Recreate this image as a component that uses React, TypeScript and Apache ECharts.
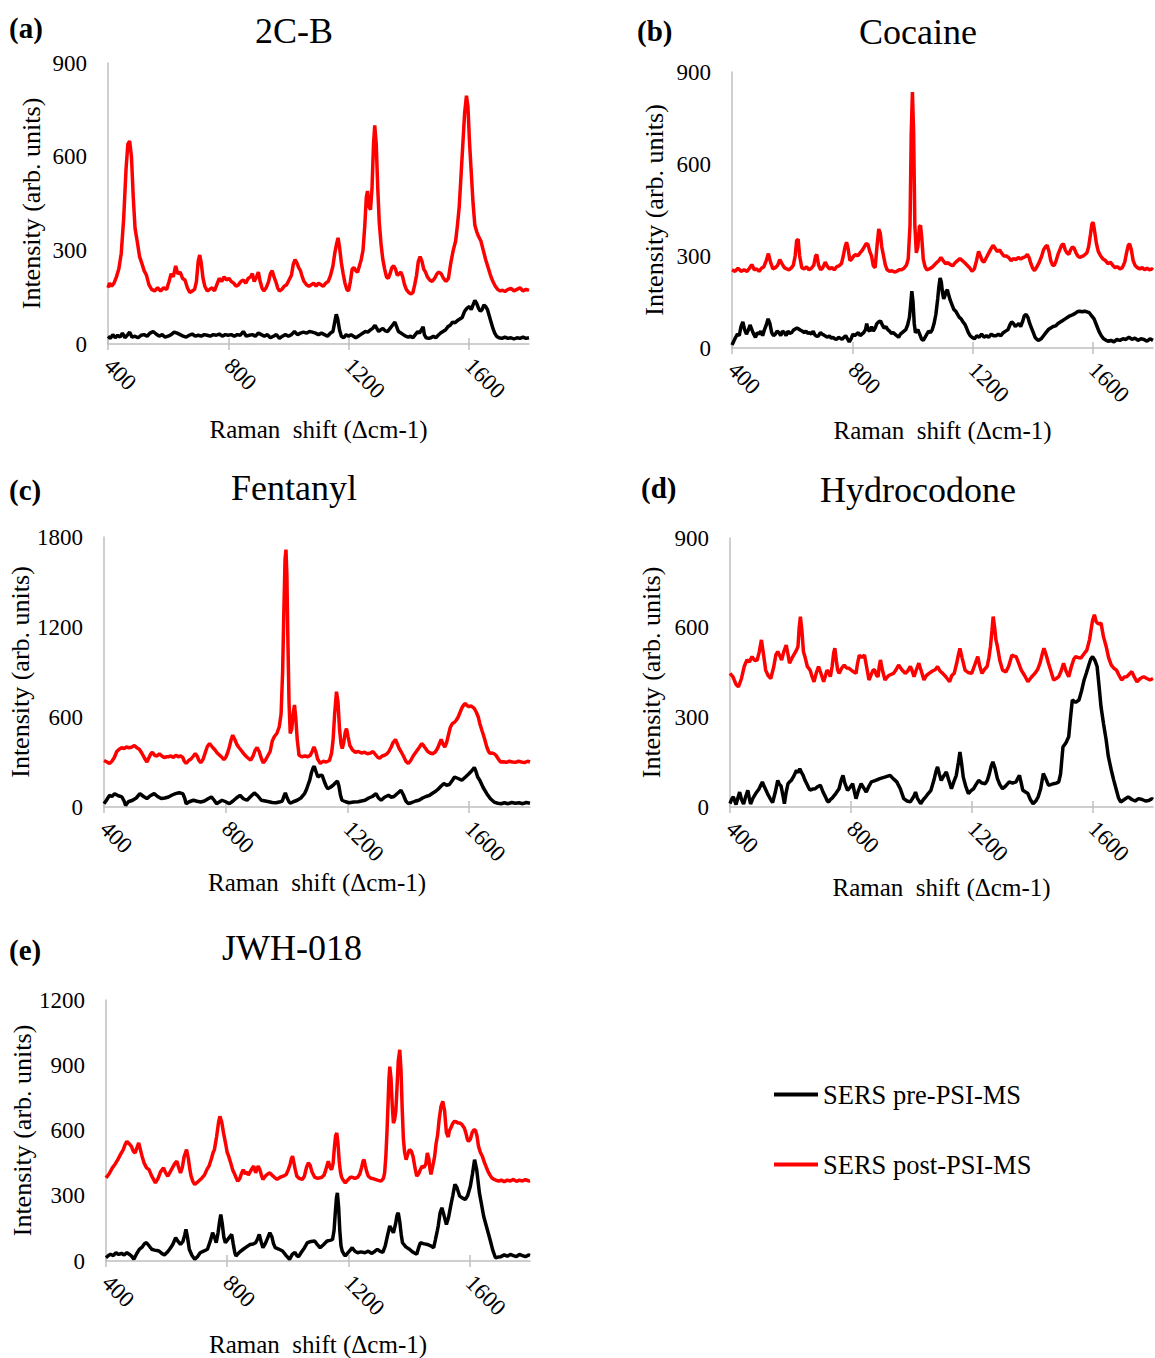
import React, { useEffect, useRef } from "react";
import * as echarts from "echarts";

// ---------- text / tick data ----------
const X_TICKS = [400, 800, 1200, 1600];
const X_MIN = 400;
const X_MAX = 1800;
const SERIES_NAMES = ["SERS pre-PSI-MS", "SERS post-PSI-MS"];
const TITLES = ["2C-B", "Cocaine", "Fentanyl", "Hydrocodone", "JWH-018"];
const PANEL_LABELS = ["(a)", "(b)", "(c)", "(d)", "(e)"];
const Y_MAX = [900, 900, 1800, 900, 1200];
const Y_STEP = [300, 300, 600, 300, 300];
const X_TITLE = "Raman  shift (Δcm-1)";
const Y_TITLE = "Intensity (arb. units)";

// ---------- spectra: [Raman shift, intensity] ----------
const cbPre = [[400,25],[408,18],[416,30],[424,20],[432,28],[440,22],[448,35],[456,20],[464,28],[472,38],[480,22],[490,25],[500,20],[510,28],[520,30],[530,25],[540,35],[550,40],[560,32],[570,25],[580,30],[590,22],[600,25],[610,30],[620,38],[630,35],[640,30],[650,25],[660,22],[670,28],[680,32],[690,25],[700,28],[710,25],[720,30],[730,28],[740,25],[750,30],[760,28],[770,32],[780,25],[790,30],[800,28],[810,30],[820,25],[830,30],[840,28],[850,40],[860,25],[870,28],[880,30],[890,25],[900,35],[910,30],[920,25],[930,30],[940,20],[950,25],[960,30],[970,18],[980,25],[990,30],[1000,25],[1010,30],[1020,40],[1030,30],[1040,35],[1050,38],[1060,35],[1070,40],[1080,38],[1090,35],[1100,30],[1110,35],[1120,30],[1130,25],[1140,35],[1148,40],[1154,70],[1159,95],[1164,80],[1170,45],[1176,25],[1184,20],[1192,30],[1200,25],[1208,30],[1216,25],[1224,20],[1232,25],[1240,30],[1248,35],[1256,40],[1264,38],[1272,45],[1280,50],[1288,60],[1294,50],[1300,40],[1306,45],[1314,50],[1322,42],[1330,40],[1338,50],[1346,60],[1354,70],[1360,55],[1366,40],[1374,35],[1382,30],[1390,25],[1398,22],[1406,25],[1414,20],[1422,30],[1430,40],[1436,35],[1442,45],[1448,55],[1452,30],[1458,20],[1466,18],[1474,20],[1482,25],[1490,20],[1498,28],[1506,35],[1514,40],[1522,45],[1530,55],[1538,60],[1546,70],[1554,68],[1562,75],[1570,80],[1578,85],[1586,105],[1594,115],[1602,120],[1608,110],[1614,125],[1620,140],[1626,130],[1632,115],[1638,105],[1644,110],[1650,125],[1656,120],[1662,110],[1668,90],[1674,70],[1680,50],[1686,35],[1692,25],[1700,20],[1710,18],[1720,22],[1730,18],[1740,20],[1750,16],[1760,20],[1770,18],[1780,22],[1790,18],[1800,20]];
const cbPost = [[400,180],[405,195],[412,185],[420,195],[428,215],[436,240],[444,290],[452,400],[460,560],[466,640],[472,650],[478,600],[484,470],[490,370],[497,330],[505,280],[512,260],[520,235],[528,220],[536,190],[545,175],[555,170],[565,180],[575,170],[585,180],[595,175],[603,200],[610,225],[617,215],[625,250],[632,225],[640,230],[648,210],[656,205],[664,180],[672,165],[680,170],[688,175],[694,200],[700,265],[705,285],[710,260],[716,210],[722,185],[730,170],[738,175],[746,180],[754,170],[762,190],[770,210],[778,200],[786,215],[794,205],[802,210],[810,200],[818,195],[826,185],[834,190],[842,200],[850,205],[858,195],[866,210],[874,215],[880,225],[886,200],[894,215],[900,230],[906,200],[912,180],[918,170],[926,180],[934,200],[940,225],[946,235],[952,215],[958,200],[964,180],[970,170],[978,175],[986,185],[994,190],[1002,205],[1010,220],[1016,255],[1022,270],[1028,260],[1034,245],[1040,235],[1046,215],[1052,200],[1060,190],[1068,185],[1076,190],[1084,195],[1092,185],[1100,195],[1108,190],[1116,185],[1124,195],[1132,200],[1140,220],[1148,250],[1154,290],[1160,320],[1165,340],[1170,310],[1176,260],[1182,225],[1188,195],[1194,175],[1200,170],[1206,200],[1212,240],[1218,245],[1224,235],[1230,230],[1236,250],[1242,270],[1248,300],[1254,380],[1259,470],[1263,490],[1268,440],[1273,430],[1278,500],[1283,640],[1287,700],[1292,640],[1297,500],[1302,390],[1308,320],[1314,270],[1320,240],[1326,215],[1332,210],[1338,225],[1344,245],[1350,250],[1356,240],[1362,220],[1368,225],[1374,230],[1380,215],[1386,190],[1392,175],[1400,165],[1408,160],[1414,165],[1420,190],[1426,220],[1432,265],[1438,280],[1444,265],[1450,240],[1456,230],[1462,215],[1470,205],[1478,200],[1486,210],[1494,225],[1500,230],[1508,225],[1516,210],[1524,200],[1532,210],[1540,260],[1548,300],[1556,330],[1562,380],[1568,440],[1574,540],[1580,640],[1586,740],[1592,795],[1597,760],[1602,650],[1608,550],[1614,450],[1620,380],[1626,360],[1632,345],[1640,330],[1648,300],[1656,270],[1664,245],[1672,220],[1680,200],[1688,185],[1696,175],[1704,170],[1712,172],[1720,168],[1730,175],[1740,178],[1750,170],[1760,175],[1770,180],[1780,170],[1790,175],[1800,172]];

const cocainePre = [[400,10],[405,20],[412,35],[418,45],[424,40],[430,70],[436,85],[442,60],[448,45],[455,60],[460,75],[466,60],[472,45],[478,35],[484,50],[490,45],[496,55],[502,40],[508,60],[514,75],[520,95],[526,80],[532,50],[538,40],[544,45],[550,55],[556,50],[562,40],[568,55],[574,50],[580,40],[586,55],[592,48],[598,50],[604,58],[610,62],[616,65],[622,62],[628,58],[634,55],[640,50],[646,55],[652,48],[658,50],[664,45],[670,55],[676,42],[682,38],[688,40],[694,50],[700,45],[706,42],[712,38],[718,35],[724,40],[730,32],[736,35],[742,30],[748,28],[754,35],[760,32],[766,28],[772,35],[778,40],[784,30],[790,20],[796,30],[802,45],[808,40],[814,45],[820,50],[826,40],[832,45],[838,50],[844,60],[848,80],[852,60],[858,55],[864,70],[870,55],[876,65],[882,80],[888,85],[894,88],[900,75],[906,65],[912,70],[918,60],[924,55],[930,48],[936,50],[942,45],[948,40],[954,35],[960,45],[966,50],[972,55],[978,60],[984,75],[990,100],[994,140],[998,185],[1002,150],[1006,80],[1010,50],[1014,55],[1018,60],[1022,50],[1026,40],[1030,30],[1036,25],[1042,35],[1048,45],[1054,55],[1060,50],[1066,60],[1072,80],[1078,110],[1084,160],[1088,200],[1092,228],[1096,215],[1100,180],[1104,160],[1108,170],[1112,185],[1116,190],[1120,175],[1126,155],[1132,140],[1138,125],[1144,120],[1150,110],[1156,100],[1162,95],[1168,85],[1174,78],[1180,65],[1186,50],[1192,40],[1198,35],[1206,30],[1214,40],[1222,35],[1230,45],[1238,35],[1246,40],[1254,35],[1262,45],[1270,40],[1278,40],[1286,45],[1294,40],[1302,50],[1310,55],[1318,60],[1324,75],[1330,85],[1336,80],[1342,70],[1348,75],[1354,80],[1360,70],[1366,85],[1372,105],[1378,110],[1384,100],[1390,80],[1396,65],[1402,50],[1408,35],[1414,28],[1420,25],[1428,30],[1436,40],[1444,50],[1452,60],[1460,65],[1468,70],[1476,72],[1484,80],[1492,85],[1500,90],[1508,95],[1516,100],[1524,105],[1532,108],[1540,112],[1548,118],[1556,120],[1564,118],[1572,120],[1580,118],[1588,115],[1596,105],[1604,95],[1612,75],[1620,55],[1628,40],[1636,30],[1644,25],[1652,22],[1660,25],[1670,20],[1680,28],[1690,25],[1700,30],[1710,28],[1720,35],[1730,28],[1740,32],[1750,25],[1760,30],[1770,28],[1780,22],[1790,30],[1800,25]];
const cocainePost = [[400,255],[410,250],[420,260],[430,250],[440,255],[450,250],[458,260],[466,272],[474,255],[482,258],[490,250],[498,260],[506,265],[514,285],[521,308],[528,280],[536,258],[544,262],[552,270],[559,288],[566,275],[574,262],[582,258],[590,255],[598,262],[604,270],[610,300],[615,350],[620,355],[625,300],[632,262],[640,258],[648,265],[656,255],[664,260],[672,270],[678,300],[682,305],[688,270],[695,255],[702,262],[710,280],[716,268],[724,258],[732,262],[740,255],[748,265],[756,268],[764,275],[770,300],[776,330],[781,345],[786,325],[792,285],[798,290],[805,300],[812,305],[818,300],[826,310],[834,320],[840,330],[846,340],[852,338],[858,315],[864,300],[870,268],[876,262],[882,330],[888,388],[893,375],[898,330],[904,300],[910,270],[916,255],[924,250],[932,252],[940,248],[948,250],[956,255],[964,255],[972,260],[980,270],[986,290],[992,400],[996,700],[1000,835],[1004,700],[1008,400],[1013,310],[1018,330],[1023,395],[1027,400],[1031,360],[1036,290],[1042,265],[1048,255],[1056,258],[1064,262],[1072,270],[1080,278],[1088,285],[1095,295],[1102,285],[1110,275],[1118,278],[1126,272],[1134,268],[1142,278],[1150,285],[1158,292],[1166,285],[1174,278],[1182,270],[1190,262],[1198,250],[1206,258],[1213,285],[1220,315],[1226,300],[1232,285],[1238,280],[1246,295],[1254,310],[1262,325],[1268,335],[1275,325],[1282,315],[1290,320],[1296,310],[1304,300],[1312,300],[1320,295],[1328,285],[1336,292],[1344,288],[1352,295],[1360,290],[1368,295],[1376,298],[1382,305],[1388,295],[1394,275],[1400,260],[1406,252],[1414,265],[1422,280],[1430,300],[1436,320],[1442,330],[1448,335],[1454,315],[1460,285],[1466,270],[1472,270],[1478,285],[1484,305],[1490,320],[1496,335],[1502,340],[1508,320],[1514,310],[1520,305],[1526,320],[1532,330],[1538,325],[1544,310],[1550,300],[1556,295],[1562,298],[1568,300],[1574,305],[1580,310],[1586,330],[1592,370],[1597,405],[1601,410],[1606,380],[1612,340],[1618,315],[1626,300],[1634,290],[1642,285],[1650,275],[1658,280],[1666,270],[1674,262],[1682,265],[1690,258],[1698,262],[1706,280],[1712,310],[1718,335],[1722,340],[1728,320],[1734,285],[1740,270],[1748,262],[1756,258],[1764,262],[1772,255],[1780,260],[1788,255],[1796,258],[1800,255]];

const fentanylPre = [[400,22],[408,45],[418,78],[426,70],[435,89],[447,75],[459,67],[466,40],[471,11],[480,35],[494,45],[506,60],[518,89],[530,70],[541,56],[552,75],[565,89],[576,70],[588,56],[600,60],[612,67],[624,80],[635,89],[647,95],[659,89],[665,60],[670,22],[680,35],[694,45],[706,38],[718,33],[730,40],[742,55],[753,67],[762,45],[770,22],[780,35],[788,45],[800,35],[812,22],[824,40],[835,60],[847,78],[858,55],[870,45],[882,70],[894,94],[905,75],[917,45],[930,40],[942,35],[953,30],[965,28],[976,33],[986,40],[991,70],[996,94],[1002,60],[1008,35],[1012,25],[1022,35],[1035,45],[1047,60],[1059,89],[1066,120],[1071,150],[1076,178],[1082,230],[1087,260],[1091,272],[1096,240],[1103,200],[1110,210],[1117,212],[1124,170],[1130,140],[1135,122],[1143,130],[1153,145],[1160,160],[1167,174],[1172,140],[1177,80],[1182,45],[1194,35],[1206,28],[1220,33],[1235,35],[1246,40],[1258,45],[1270,60],[1282,70],[1294,89],[1302,60],[1311,45],[1322,65],[1335,78],[1344,65],[1353,70],[1364,90],[1376,111],[1384,80],[1392,40],[1400,22],[1412,30],[1424,40],[1435,45],[1447,60],[1458,70],[1470,78],[1482,95],[1490,105],[1500,122],[1508,140],[1517,156],[1526,145],[1535,150],[1544,175],[1552,200],[1564,190],[1576,178],[1588,200],[1600,223],[1608,240],[1617,263],[1622,240],[1628,200],[1635,178],[1646,130],[1658,89],[1670,55],[1682,33],[1694,25],[1705,22],[1716,28],[1728,22],[1740,30],[1752,25],[1764,28],[1776,22],[1788,30],[1800,25]];
const fentanylPost = [[400,310],[410,300],[418,290],[426,305],[434,330],[442,370],[450,385],[458,395],[466,390],[474,400],[482,395],[490,398],[500,410],[508,395],[516,385],[524,360],[532,330],[541,300],[548,330],[554,355],[559,365],[566,345],[574,340],[582,355],[590,340],[598,330],[606,335],[612,335],[620,340],[628,330],[636,345],[644,335],[652,340],[659,330],[664,305],[670,290],[678,310],[686,320],[694,340],[700,356],[706,340],[712,310],[718,295],[726,320],[734,370],[740,405],[747,423],[752,410],[758,395],[765,380],[772,360],[780,345],[788,330],[794,315],[800,330],[806,360],[812,400],[818,450],[823,479],[830,450],[836,420],[842,400],[850,380],[859,356],[866,340],[874,325],[882,312],[890,340],[896,375],[903,396],[910,370],[916,330],[923,295],[930,310],[938,340],[946,370],[953,440],[960,470],[968,490],[976,535],[982,620],[987,900],[991,1300],[995,1650],[998,1716],[1001,1550],[1004,1150],[1008,700],[1012,490],[1017,520],[1022,630],[1026,680],[1030,600],[1035,450],[1041,345],[1050,335],[1060,340],[1070,335],[1078,345],[1084,370],[1090,400],[1096,370],[1102,320],[1111,290],[1120,305],[1130,300],[1141,310],[1148,360],[1153,450],[1158,620],[1164,769],[1169,700],[1174,520],[1179,420],[1183,390],[1188,430],[1193,500],[1197,523],[1202,470],[1208,410],[1217,379],[1226,365],[1236,370],[1246,360],[1256,365],[1266,355],[1276,360],[1284,370],[1292,350],[1300,330],[1306,325],[1314,340],[1322,345],[1330,355],[1336,370],[1344,400],[1350,430],[1358,450],[1364,420],[1370,390],[1376,370],[1384,340],[1392,305],[1400,290],[1408,310],[1416,340],[1423,360],[1430,380],[1437,400],[1444,423],[1450,410],[1457,390],[1464,370],[1472,360],[1480,355],[1488,365],[1496,390],[1502,420],[1508,450],[1514,420],[1520,400],[1526,430],[1532,480],[1538,530],[1545,557],[1552,565],[1558,580],[1564,600],[1570,630],[1576,660],[1582,680],[1587,690],[1594,675],[1600,668],[1606,675],[1612,665],[1617,657],[1624,630],[1630,600],[1635,557],[1642,510],[1647,480],[1652,445],[1658,400],[1664,370],[1668,358],[1676,360],[1682,355],[1688,345],[1696,320],[1703,300],[1712,302],[1722,298],[1732,305],[1742,300],[1752,298],[1762,305],[1772,300],[1782,296],[1792,305],[1800,300]];

const hydrocodonePre = [[400,11],[405,25],[411,34],[420,8],[426,30],[432,50],[438,25],[445,10],[452,35],[459,56],[464,30],[468,10],[476,30],[485,45],[496,60],[507,84],[515,65],[524,45],[532,30],[541,15],[550,50],[558,89],[564,75],[569,70],[575,40],[580,11],[586,50],[592,78],[598,85],[603,89],[612,105],[620,123],[626,115],[631,128],[637,115],[642,106],[648,90],[654,78],[660,65],[665,56],[673,60],[682,61],[690,68],[699,73],[708,50],[716,34],[722,20],[727,17],[732,25],[738,30],[750,45],[761,61],[768,90],[774,106],[780,80],[789,56],[797,65],[806,78],[812,50],[817,28],[825,55],[834,78],[842,65],[851,50],[860,70],[868,84],[880,88],[896,95],[912,100],[930,106],[940,95],[952,84],[964,60],[975,28],[986,20],[997,17],[1008,35],[1014,50],[1020,30],[1031,11],[1040,25],[1048,34],[1056,45],[1065,56],[1075,90],[1082,120],[1087,134],[1093,110],[1099,89],[1108,105],[1116,117],[1124,90],[1133,61],[1141,85],[1149,106],[1156,150],[1161,184],[1166,150],[1172,100],[1180,70],[1189,45],[1198,55],[1206,61],[1214,75],[1223,89],[1234,80],[1245,78],[1252,90],[1258,110],[1264,135],[1270,151],[1277,130],[1285,95],[1293,75],[1302,61],[1312,70],[1324,84],[1335,80],[1347,84],[1352,95],[1358,106],[1364,80],[1369,56],[1378,50],[1386,45],[1394,25],[1403,11],[1412,20],[1420,34],[1428,60],[1437,112],[1445,95],[1454,73],[1462,75],[1471,78],[1480,80],[1488,84],[1494,110],[1502,201],[1512,215],[1521,235],[1527,300],[1533,358],[1544,350],[1555,358],[1564,390],[1572,425],[1580,450],[1586,470],[1594,495],[1600,503],[1608,490],[1615,470],[1620,420],[1628,335],[1636,280],[1645,224],[1652,170],[1662,123],[1670,90],[1679,56],[1686,30],[1693,17],[1705,25],[1718,34],[1730,25],[1741,20],[1752,28],[1764,25],[1775,20],[1786,22],[1796,28],[1800,25]];
const hydrocodonePost = [[400,447],[410,435],[420,410],[428,402],[438,430],[447,470],[456,492],[464,485],[473,503],[482,490],[490,492],[497,520],[504,559],[511,510],[518,458],[526,440],[535,430],[545,470],[552,510],[558,520],[565,505],[571,492],[578,520],[586,542],[592,510],[597,481],[606,500],[614,514],[620,525],[625,537],[629,600],[633,637],[638,590],[643,520],[648,503],[656,470],[665,458],[672,435],[678,419],[686,450],[693,470],[700,450],[710,419],[716,440],[721,458],[727,450],[732,436],[738,470],[743,515],[747,531],[752,490],[756,460],[761,447],[770,465],[778,475],[786,465],[794,464],[805,455],[817,447],[822,480],[828,508],[836,500],[845,508],[852,470],[860,425],[868,445],[874,458],[879,458],[885,440],[890,436],[894,470],[898,492],[904,460],[913,425],[925,440],[941,447],[950,460],[958,475],[968,460],[980,447],[988,455],[997,470],[1003,455],[1009,436],[1017,460],[1025,481],[1033,455],[1042,425],[1050,440],[1059,447],[1070,455],[1080,460],[1087,470],[1095,455],[1104,447],[1115,435],[1127,419],[1134,440],[1142,447],[1150,480],[1156,510],[1161,531],[1168,500],[1178,458],[1188,450],[1200,447],[1210,475],[1220,503],[1227,470],[1234,447],[1242,460],[1251,470],[1257,500],[1262,537],[1267,590],[1271,637],[1276,600],[1280,560],[1285,537],[1293,490],[1302,458],[1313,452],[1322,470],[1333,508],[1340,505],[1347,503],[1356,480],[1364,458],[1375,440],[1386,419],[1398,435],[1409,447],[1418,460],[1426,481],[1433,510],[1439,531],[1446,510],[1454,481],[1462,455],[1471,425],[1480,430],[1488,436],[1496,455],[1504,481],[1512,455],[1521,436],[1530,470],[1538,495],[1544,503],[1552,500],[1561,498],[1570,510],[1581,525],[1590,560],[1595,593],[1600,625],[1606,643],[1612,620],[1617,615],[1622,612],[1628,615],[1636,570],[1645,537],[1653,500],[1662,475],[1670,465],[1679,458],[1688,440],[1696,425],[1705,435],[1713,436],[1722,445],[1730,453],[1738,435],[1747,419],[1758,430],[1769,436],[1780,430],[1790,425],[1800,430]];

const jwhPre = [[400,15],[408,25],[415,31],[424,25],[433,38],[442,30],[451,35],[460,28],[469,38],[478,30],[486,20],[492,8],[500,30],[510,54],[520,65],[527,80],[534,84],[542,70],[551,54],[560,50],[568,48],[575,46],[584,35],[593,28],[602,40],[610,54],[620,75],[630,107],[638,90],[646,76],[654,90],[660,120],[664,145],[669,110],[675,54],[684,25],[693,8],[702,20],[711,38],[722,45],[735,54],[744,90],[752,130],[758,110],[764,84],[770,130],[775,180],[779,214],[784,170],[789,110],[794,84],[800,95],[808,110],[815,122],[820,80],[825,40],[829,23],[840,40],[853,54],[864,65],[876,76],[886,78],[894,84],[900,100],[906,122],[912,90],[918,61],[926,80],[935,110],[941,130],[948,110],[953,80],[959,61],[970,55],[983,46],[995,25],[1006,8],[1015,30],[1024,40],[1030,25],[1036,20],[1045,40],[1055,60],[1065,84],[1077,90],[1089,92],[1098,75],[1107,61],[1118,75],[1130,92],[1140,95],[1148,99],[1153,140],[1157,220],[1161,290],[1164,313],[1168,250],[1172,140],[1176,70],[1180,45],[1186,30],[1190,23],[1200,40],[1213,61],[1222,45],[1231,38],[1242,42],[1255,38],[1266,45],[1278,35],[1288,45],[1296,54],[1304,45],[1314,40],[1322,70],[1330,120],[1337,161],[1343,145],[1349,130],[1356,170],[1361,210],[1365,222],[1370,180],[1375,120],[1379,84],[1390,65],[1402,54],[1414,40],[1426,31],[1432,60],[1438,84],[1448,80],[1461,76],[1472,70],[1482,61],[1488,100],[1494,140],[1497,161],[1503,220],[1509,245],[1516,210],[1524,168],[1531,200],[1538,252],[1545,300],[1552,352],[1558,340],[1568,298],[1576,290],[1586,283],[1594,300],[1603,344],[1610,400],[1617,466],[1624,420],[1633,313],[1640,260],[1647,206],[1656,160],[1668,99],[1677,50],[1686,15],[1695,18],[1704,20],[1715,28],[1725,22],[1735,30],[1745,25],[1755,20],[1765,30],[1775,25],[1785,20],[1795,28],[1800,25]];
const jwhPost = [[400,382],[410,400],[421,428],[430,445],[439,466],[448,490],[457,512],[463,535],[469,550],[476,540],[484,527],[490,505],[496,497],[502,520],[508,543],[514,510],[519,482],[526,450],[534,428],[542,420],[551,390],[557,375],[563,359],[572,380],[580,410],[590,428],[597,405],[604,390],[612,410],[620,430],[628,450],[634,459],[640,430],[646,405],[652,430],[658,480],[666,512],[672,470],[677,420],[681,390],[687,365],[693,352],[700,360],[708,370],[717,382],[725,395],[733,420],[740,436],[748,470],[754,500],[758,512],[765,570],[772,640],[776,665],[782,640],[788,589],[795,540],[800,500],[805,482],[812,450],[818,420],[823,405],[829,385],[835,367],[842,380],[848,405],[853,420],[860,400],[866,410],[870,395],[876,410],[882,425],[888,436],[894,405],[898,420],[902,436],[908,420],[913,395],[918,375],[926,390],[934,400],[941,405],[948,395],[956,385],[965,375],[975,385],[985,390],[995,398],[1002,420],[1008,445],[1012,470],[1016,482],[1020,455],[1025,420],[1030,390],[1038,380],[1048,375],[1055,390],[1062,430],[1068,451],[1074,440],[1080,410],[1089,385],[1100,380],[1113,385],[1120,395],[1126,420],[1130,440],[1134,459],[1140,430],[1145,420],[1150,450],[1154,520],[1158,575],[1162,589],[1166,540],[1170,460],[1174,410],[1178,385],[1184,370],[1190,359],[1200,375],[1207,385],[1213,385],[1222,380],[1231,385],[1238,400],[1244,430],[1249,460],[1252,466],[1256,440],[1261,410],[1266,390],[1275,380],[1284,378],[1296,372],[1308,367],[1316,380],[1320,405],[1324,480],[1328,600],[1331,711],[1334,830],[1337,894],[1341,840],[1345,720],[1349,634],[1353,650],[1357,690],[1361,800],[1365,920],[1370,971],[1374,880],[1378,700],[1382,560],[1386,500],[1391,466],[1396,490],[1402,512],[1408,505],[1414,480],[1420,430],[1426,390],[1432,400],[1438,420],[1444,436],[1450,430],[1456,445],[1461,497],[1466,470],[1470,420],[1473,398],[1478,430],[1485,480],[1490,540],[1495,580],[1500,650],[1506,710],[1512,734],[1518,690],[1524,589],[1530,570],[1534,600],[1538,610],[1544,630],[1550,642],[1556,640],[1562,635],[1568,634],[1574,630],[1579,620],[1583,612],[1588,590],[1593,560],[1597,550],[1603,560],[1609,590],[1615,604],[1620,600],[1625,575],[1630,527],[1636,500],[1643,480],[1650,451],[1656,430],[1662,410],[1668,395],[1674,382],[1682,375],[1690,370],[1697,367],[1705,372],[1715,365],[1725,372],[1735,368],[1745,375],[1755,366],[1765,372],[1775,368],[1785,374],[1795,368],[1800,370]];

const PRE = [cbPre, cocainePre, fentanylPre, hydrocodonePre, jwhPre];
const POST = [cbPost, cocainePost, fentanylPost, hydrocodonePost, jwhPost];

// ---------- layout (pixels) ----------
const GRIDS = [
  { left: 108, top: 63, width: 421, height: 281, xGap: 73, yGap: 64 },
  { left: 732, top: 72, width: 421, height: 276, xGap: 70, yGap: 65 },
  { left: 104, top: 537, width: 426, height: 270, xGap: 63, yGap: 66 },
  { left: 730, top: 538, width: 423, height: 269, xGap: 68, yGap: 66 },
  { left: 106, top: 1000, width: 424, height: 262, xGap: 71, yGap: 68 },
];
const TITLE_POS = [[294, 31], [918, 32], [294, 488], [918, 490], [292, 948]];
const LABEL_POS = [[9, 28], [637, 31], [9, 490], [641, 488], [9, 950]];

const FONT = "'Liberation Serif', 'Times New Roman', serif";
const AXIS_GRAY = "#bfbfbf";
const COLORS = ["#000000", "#ff0000"];
const plain = (v: number) => String(v);

function buildOption() {
  const grid: any[] = [];
  const xAxis: any[] = [];
  const yAxis: any[] = [];
  const series: any[] = [];
  const graphic: any[] = [];

  GRIDS.forEach((g, i) => {
    grid.push({ left: g.left, top: g.top, width: g.width, height: g.height, containLabel: false });
    xAxis.push({
      gridIndex: i,
      type: "value",
      min: X_MIN,
      max: X_MAX,
      position: "bottom",
      name: X_TITLE,
      nameLocation: "middle",
      nameGap: g.xGap,
      nameTextStyle: { fontSize: 25, color: "#000", fontFamily: FONT },
      axisLine: { show: true, onZero: false, lineStyle: { color: AXIS_GRAY, width: 1.5 } },
      axisTick: { show: true, customValues: X_TICKS, length: 6, lineStyle: { color: AXIS_GRAY, width: 1.5 } },
      axisLabel: { customValues: X_TICKS, rotate: -45, margin: 18, fontSize: 23, color: "#000", fontFamily: FONT, formatter: plain },
      splitLine: { show: false },
    });
    xAxis.push({
      gridIndex: i,
      type: "value",
      min: X_MIN,
      max: X_MAX,
      position: "bottom",
      axisLine: { show: false, onZero: false },
      axisTick: { show: true, inside: true, customValues: X_TICKS, length: 6, lineStyle: { color: AXIS_GRAY, width: 1.5 } },
      axisLabel: { show: false },
      splitLine: { show: false },
    });
    yAxis.push({
      gridIndex: i,
      type: "value",
      min: 0,
      max: Y_MAX[i],
      interval: Y_STEP[i],
      name: Y_TITLE,
      nameLocation: "middle",
      nameGap: g.yGap,
      nameTextStyle: { fontSize: 26, color: "#000", fontFamily: FONT },
      axisLine: { show: true, onZero: false, lineStyle: { color: AXIS_GRAY, width: 1.5 } },
      axisTick: { show: false },
      axisLabel: { fontSize: 23, margin: 21, color: "#000", fontFamily: FONT, formatter: plain },
      splitLine: { show: false },
    });
    [PRE[i], POST[i]].forEach((d, k) => {
      series.push({
        type: "line",
        name: SERIES_NAMES[k],
        xAxisIndex: i * 2,
        yAxisIndex: i,
        data: d,
        showSymbol: false,
        symbol: "none",
        lineStyle: { color: COLORS[k], width: 3.5 },
        itemStyle: { color: COLORS[k] },
        z: 2 + k,
      });
    });
    graphic.push({
      type: "text",
      x: TITLE_POS[i][0],
      y: TITLE_POS[i][1],
      style: { text: TITLES[i], fill: "#000", fontSize: 36, fontFamily: FONT, align: "center", verticalAlign: "middle" },
    });
    graphic.push({
      type: "text",
      x: LABEL_POS[i][0],
      y: LABEL_POS[i][1],
      style: { text: PANEL_LABELS[i], fill: "#000", fontSize: 29, fontWeight: "bold", fontFamily: FONT, align: "left", verticalAlign: "middle" },
    });
  });

  return {
    animation: false,
    backgroundColor: "#ffffff",
    textStyle: { fontFamily: FONT },
    grid,
    xAxis,
    yAxis,
    series,
    graphic,
    legend: {
      data: SERIES_NAMES,
      orient: "vertical",
      left: 774,
      top: 1081,
      padding: 0,
      itemWidth: 44,
      itemHeight: 4,
      itemGap: 43,
      icon: "rect",
      textStyle: { fontSize: 26.5, color: "#000", fontFamily: FONT },
    },
  };
}

export default function App() {
  const ref = useRef<HTMLDivElement>(null);
  useEffect(() => {
    document.body.style.margin = "0";
    const chart = echarts.init(ref.current as HTMLDivElement, null, { renderer: "svg" });
    chart.setOption(buildOption());
    return () => chart.dispose();
  }, []);
  return <div ref={ref} style={{ width: 1155, height: 1358 }} />;
}
